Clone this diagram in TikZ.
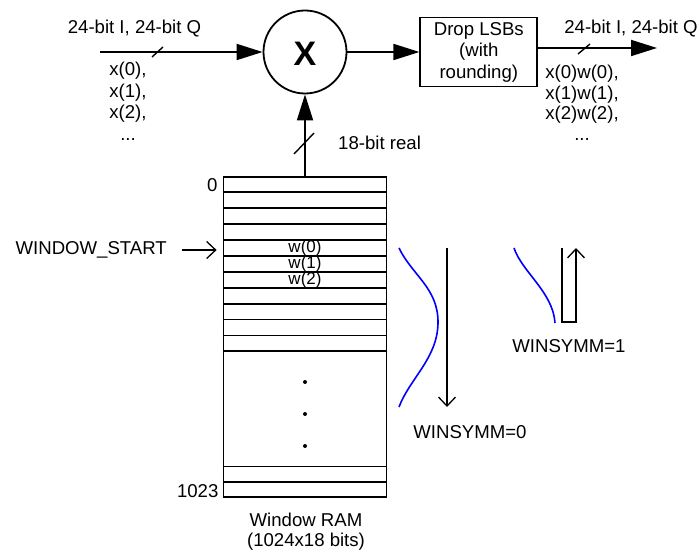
\documentclass[tikz,border=0pt]{standalone}
\usepackage{fontspec}
\setmainfont{Liberation Sans}
\usetikzlibrary{arrows.meta,positioning,calc}

\begin{document}
\begin{tikzpicture}[x=1pt,y=-1pt,every node/.style={font=\fontsize{18.6}{21.5}\selectfont,inner sep=0pt},sig/.style={line width=1.8pt,-{Triangle[length=26pt,width=16pt]}},ptr/.style={line width=1.3pt,-{Straight Barb[length=9pt,width=17pt]}},box/.style={draw,line width=1.8pt,align=center,minimum width=117pt,minimum height=69pt},row/.style={line width=1.8pt},tick/.style={line width=1.4pt},win/.style={blue,line width=1.6pt}]
\useasboundingbox (0,0) rectangle (698,553);
\node[draw,circle,line width=1.8pt,minimum size=83pt] (mult) at (305,52) {};
\node[font=\fontsize{34}{34}\bfseries] (multx) at ([yshift=-2pt]mult.center) {X};
\node[box,right=72pt of mult] (drop) {Drop LSBs\\(with\\rounding)};
\node[draw,line width=1.8pt,minimum width=163pt,minimum height=320pt,below=82pt of mult] (ram) {};
\coordinate (in) at (100,52);
\coordinate (out) at (657,48);
% input and output
\node (inlbl) at (134.5,29) {24-bit I, 24-bit Q};
\node[align=center,anchor=north] (xin) at (128,62) {x(0),\\x(1),\\x(2),\\...};
\node (outlbl) at (631,29) {24-bit I, 24-bit Q};
\node[align=center,anchor=north,font=\fontsize{18.6}{20.5}\selectfont] (xwout) at (582,65) {x(0)w(0),\\x(1)w(1),\\x(2)w(2),\\...};
\node[anchor=west] (reallbl) at (338,143) {18-bit real};
\draw[sig] (in) -- (mult);
\draw[sig] (mult) -- (drop);
\draw[sig] (drop.east |- out) -- (out);
\draw[sig] (ram) -- (mult);
\draw[tick] (152,57) -- (163,47);
\draw[tick] (294,154) -- (314,133);
\draw[tick] (578,54) -- (590,44);
% window RAM rows
\foreach \k in {1,...,11}
  \draw[row] ([yshift=-\k*15.9pt]ram.north west) -- ([yshift=-\k*15.9pt]ram.north east);
\foreach \k in {1,2}
  \draw[row] ([yshift=\k*15.9pt]ram.south west) -- ([yshift=\k*15.9pt]ram.south east);
\node[anchor=east] (lbl0) at ([xshift=-5pt,yshift=-9pt]ram.north west) {0};
\node[anchor=east] (lbl1023) at ([xshift=-4pt,yshift=7pt]ram.south west) {1023};
\node[font=\fontsize{17}{17}\selectfont] (w0) at ([yshift=-72pt]ram.north) {w(0)};
\node[font=\fontsize{17}{17}\selectfont] (w1) at ([yshift=-88pt]ram.north) {w(1)};
\node[font=\fontsize{17}{17}\selectfont] (w2) at ([yshift=-104pt]ram.north) {w(2)};
\foreach \y in {382,414,446}
  \fill (305,\y) circle (2pt);
\node[align=center,font=\fontsize{18.6}{20}\selectfont] (ramlbl) at (306,532) {Window RAM\\(1024x18 bits)};
% window start pointer
\node[anchor=east] (wstart) at (167,250) {WINDOW\_START};
\draw[ptr] ([xshift=15pt]wstart.east) -- ($(ram.west |- wstart.east)+(-6,0)$);
% symmetry
\draw[win] (399,248) .. controls (412,275) and (438,288) .. (438,322) .. controls (438,358) and (410,378) .. (399,407);
\draw[ptr] (447,248) -- (447,407);
\node (ws0) at (470,432) {WINSYMM=0};
\draw[win] (514,248) .. controls (522,272) and (553,292) .. (555,323);
\draw[ptr] (562,248) -- (562,322) -- (576,322) -- (576,248);
\node (ws1) at (569,346) {WINSYMM=1};
\end{tikzpicture}
\end{document}
